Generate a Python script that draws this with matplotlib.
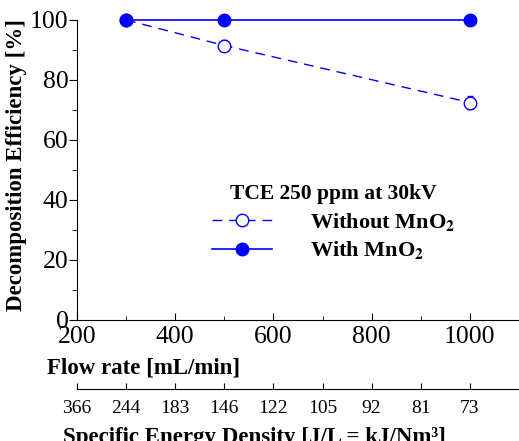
import matplotlib
matplotlib.use('Agg')
import matplotlib.pyplot as plt
from matplotlib.lines import Line2D

plt.rcParams['font.family'] = ['Liberation Serif', 'DejaVu Serif']
plt.rcParams['mathtext.fontset'] = 'stix'

# data
flow_rate = [300, 500, 1000]
with_mno2 = [100, 100, 100]
without_mno2 = [100, 91.5, 72.5]
without_err = [0, 1.8, 2.2]

sed_pos = [200, 300, 400, 500, 600, 700, 800, 900, 1000]
sed_labels = ['366', '244', '183', '146', '122', '105', '92', '81', '73']

blue = '#0000ff'

fig = plt.figure(figsize=(5.19, 4.41), dpi=100)
ax = fig.add_axes([77/519, 121/441, (519-77)/519, 300/441])

ax.errorbar(flow_rate, without_mno2, yerr=without_err, color=blue, ls='--', lw=1.0,
            marker='o', ms=9, mfc='white', mec=blue, mew=1.0, capsize=2.5, elinewidth=0.8,
            dashes=(7, 5), clip_on=False, zorder=3)
ax.plot(flow_rate, with_mno2, color=blue, ls='-', lw=1.2, marker='o', ms=9,
        clip_on=False, zorder=4)

ax.set_xlim(200, 1100)
ax.set_ylim(0, 100)
ax.set_xticks([200, 400, 600, 800, 1000])
ax.set_xticks([300, 500, 700, 900], minor=True)
ax.set_yticks([0, 20, 40, 60, 80, 100])
ax.set_yticks([10, 30, 50, 70, 90], minor=True)
ax.spines['top'].set_visible(False)
ax.spines['right'].set_visible(False)
ax.tick_params(axis='x', which='both', direction='in', labelsize=18.5, pad=4)
ax.tick_params(axis='x', which='major', length=5)
ax.tick_params(axis='x', which='minor', length=3)
ax.tick_params(axis='y', which='both', direction='out', labelsize=18.5, pad=0)
ax.tick_params(axis='y', which='major', length=6)
ax.tick_params(axis='y', which='minor', length=3.5)

ax.set_xlabel('Flow rate [mL/min]', fontsize=16.5, fontweight='bold',
              ha='left', va='center')
ax.xaxis.set_label_coords(-0.068, -0.16)
ax.set_ylabel('Decomposition Efficiency [%]', fontsize=16.5, fontweight='bold')
ax.yaxis.set_label_coords(-0.113, 0.517)

sec = ax.secondary_xaxis(-0.23)
sec.set_xticks(sed_pos)
sec.set_xticklabels(sed_labels)
sec.tick_params(direction='in', length=4, labelsize=14, pad=8)
fig.text(254/519, (441-427)/441, 'Specific Energy Density [J/L = kJ/Nm³]',
         fontsize=16.5, fontweight='bold', ha='center', va='top')

handles = [
    Line2D([], [], color=blue, lw=1.0, dashes=(7, 5), marker='o', ms=9,
           mfc='white', mec=blue, mew=1.0),
    Line2D([], [], color=blue, lw=1.2, marker='o', ms=9),
]
labels = ['Without MnO$_\\mathbf{2}$', 'With MnO$_\\mathbf{2}$']
leg = ax.legend(handles, labels, loc='upper left',
                bbox_to_anchor=(212/519, (441-184)/441),
                bbox_transform=fig.transFigure, frameon=False, borderpad=0,
                borderaxespad=0, title='TCE 250 ppm at 30kV', handlelength=2.7,
                handletextpad=1.7, labelspacing=0.3,
                prop={'size': 16, 'weight': 'bold'})
leg.get_title().set_fontsize(15.5)
leg.get_title().set_fontweight('bold')

fig.savefig('out.png', dpi=100)
